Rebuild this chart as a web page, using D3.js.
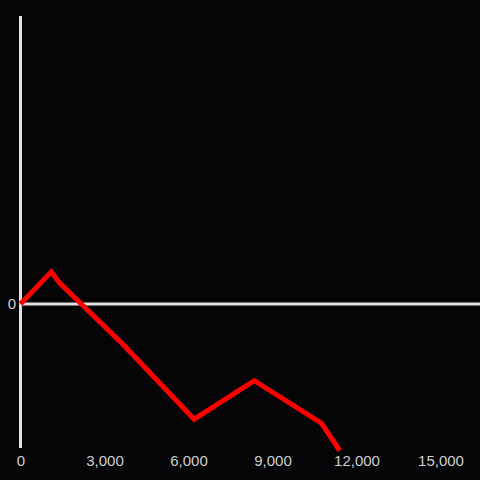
<!DOCTYPE html>
<html><head><meta charset="utf-8">
<script src="https://cdn.jsdelivr.net/npm/d3@7"></script>
<style>html,body{margin:0;padding:0;background:#050407;}svg{display:block;}</style>
</head><body><svg id="c" width="480" height="480"></svg>
<script>
const xValues = [0, 1100, 1400, 3650, 6200, 8350, 10750, 11400];
const yValues = [0, 0.224, 0.146, -0.278, -0.80, -0.533, -0.828, -1.019];
const xTicks = [0, 3000, 6000, 9000, 12000, 15000];
const yTicks = [0];

const svg = d3.select("#c");
svg.append("rect").attr("width",480).attr("height",480).attr("fill","#050407");
const x = d3.scaleLinear().domain([0, 3000]).range([20.5, 104.5]);
const y = d3.scaleLinear().domain([-1, 2]).range([448, 16]);

// y axis line
svg.append("line").attr("x1",x(0)).attr("x2",x(0)).attr("y1",y(2)).attr("y2",y(-1))
  .attr("stroke","#e0e0e0").attr("stroke-width",3);
// zero line
svg.append("line").attr("x1",x(0)).attr("x2",480).attr("y1",y(0)).attr("y2",y(0))
  .attr("stroke","#e0e0e0").attr("stroke-width",3);

const font = "'Liberation Sans', Arial, sans-serif";
const xa = svg.append("g").attr("transform","translate(0,460.5)")
  .call(d3.axisBottom(x).tickValues(xTicks).tickSize(0).tickPadding(0).tickFormat(d3.format(",")));
xa.select(".domain").remove();
xa.selectAll("text").attr("fill","#d0d0d0").attr("font-size",15).attr("dy","0.35em")
  .attr("font-family",font);

const ya = svg.append("g").attr("transform","translate(16,0)")
  .call(d3.axisLeft(y).tickValues(yTicks).tickSize(0).tickPadding(0).tickFormat(d3.format(",")));
ya.select(".domain").remove();
ya.selectAll("text").attr("fill","#d0d0d0").attr("font-size",15)
  .attr("font-family",font);

const line = d3.line().x((d,i)=>x(xValues[i])).y((d,i)=>y(yValues[i]));
svg.append("path").datum(xValues).attr("d",line).attr("fill","none")
  .attr("stroke","#ff0000").attr("stroke-width",5).attr("stroke-linejoin","miter");
</script></body></html>
